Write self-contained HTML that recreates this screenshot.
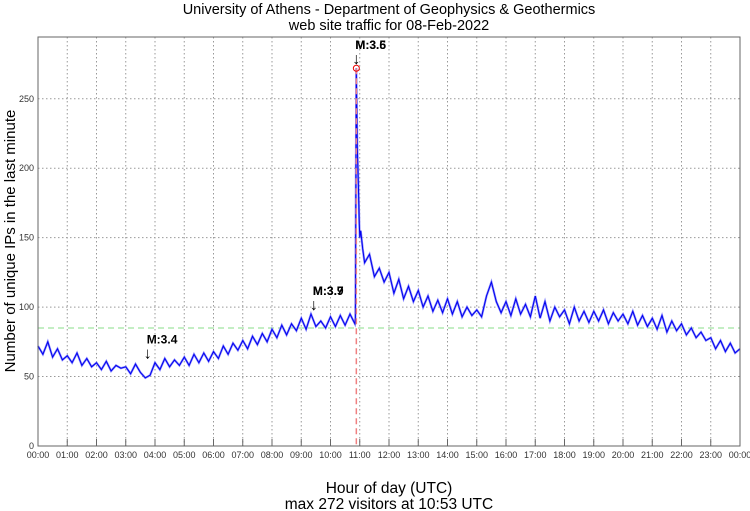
<!DOCTYPE html>
<html><head><meta charset="utf-8"><style>
html,body{margin:0;padding:0;background:#fff;}
svg{display:block;font-family:"Liberation Sans",sans-serif;}
</style></head><body>
<svg id="chart" width="750" height="511">
<text x="389" y="14" text-anchor="middle" font-size="14.5" fill="#000">University of Athens - Department of Geophysics &amp; Geothermics</text>
<text x="389" y="30" text-anchor="middle" font-size="14.5" fill="#000">web site traffic for 08-Feb-2022</text>
<text transform="translate(15,241) rotate(-90)" text-anchor="middle" font-size="15" fill="#000">Number of unique IPs in the last minute</text>
<text x="389" y="493" text-anchor="middle" font-size="15.5" fill="#000">Hour of day (UTC)</text>
<text x="389" y="509" text-anchor="middle" font-size="15.5" fill="#000">max 272 visitors at 10:53 UTC</text>
<g id="grid"></g>
<g id="series"></g>
<g id="axes"></g>
<g id="notes"></g>
</svg>
<script>
const hourLabels=["00:00","01:00","02:00","03:00","04:00","05:00","06:00","07:00","08:00","09:00","10:00","11:00","12:00","13:00","14:00","15:00","16:00","17:00","18:00","19:00","20:00","21:00","22:00","23:00","00:00"];
const yTicks=[0,50,100,150,200,250];
// visitors every 10 minutes from 00:00
const visitors=[72,66,75,64,70,62, 65,60,67,58,63,57, 60,55,61,54,58,56, 57,52,59,53,49,51,
60,55,63,57,62,58, 64,58,66,60,67,61, 68,63,72,66,74,69, 76,70,79,73,81,75,
84,78,87,80,88,83, 92,84,95,86,90,85, 93,86,94,87,95,88,
150,132,138,122,128,118, 125,110,120,106,115,104, 112,100,108,97,105,96,
106,95,104,93,100,94, 98,93,108,118,104,96, 104,94,106,95,102,93,
108,92,104,90,100,93, 98,88,100,90,97,89, 97,90,98,88,96,90,
95,88,97,87,94,86, 92,84,94,82,90,83, 88,80,85,78,82,76, 78,70,76,68,74,67, 70];
const spikeMinutes=[651,653,655,657,659,662,666];
const spikeValues=[92,272,215,190,160,155,142];
const meanLevel=85;
const peakMinute=653, peakValue=272;
const quakes=[{min:225,label:"M:3.4",labels2:""},{min:566,label:"M:3.9",labels2:"M:3.7"},{min:653,label:"M:3.6",labels2:"M:3.5"}];

const L=38,R=740,T=37,B=446,YMAX=294.5;
const xs=m=>L+(R-L)*m/1440;
const ys=v=>B-(B-T)*v/YMAX;
const NS="http://www.w3.org/2000/svg";
function mk(tag,attrs,parent){const e=document.createElementNS(NS,tag);for(const k in attrs)e.setAttribute(k,attrs[k]);parent.appendChild(e);return e;}
const grid=document.getElementById('grid'),axes=document.getElementById('axes'),series=document.getElementById('series'),notes=document.getElementById('notes');

hourLabels.forEach((lab,i)=>{
  const x=xs(i*60);
  if(i>0&&i<24){const g=mk('line',{x1:x,x2:x,y1:T,y2:B,stroke:'#999','stroke-dasharray':'1.5,2.5','stroke-width':1},grid);
  
  }
  const t=mk('line',{x1:x,x2:x,y1:B,y2:B-7,stroke:'#666','stroke-width':1},axes);
  
  
  const tx=mk('text',{x:x,y:B+12,'text-anchor':'middle','font-size':9,fill:'#333'},axes);
  tx.textContent=lab;
  
  
});
yTicks.forEach(v=>{
  const y=ys(v);
  if(v>0){const g=mk('line',{x1:L,x2:R,y1:y,y2:y,stroke:'#999','stroke-dasharray':'1.5,2.5','stroke-width':1},grid);
  
  }
  const tx=mk('text',{x:L-4,y:y+3,'text-anchor':'end','font-size':9,fill:'#333'},axes);
  tx.textContent=v;
  
  
});
const box=mk('rect',{x:L,y:T,width:R-L,height:B-T,fill:'none',stroke:'#666','stroke-width':1},axes);



const mean=mk('line',{x1:L,x2:R,y1:ys(meanLevel),y2:ys(meanLevel),stroke:'#88dd88','stroke-dasharray':'6,4','stroke-width':1},grid);



let pts=visitors.map((v,i)=>[i*10,v]).concat(spikeMinutes.map((m,i)=>[m,spikeValues[i]]));
pts.sort((a,b)=>a[0]-b[0]);
const d=pts.map((p,i)=>(i?'L':'M')+xs(p[0]).toFixed(1)+','+ys(p[1]).toFixed(1)).join('');
const back=mk('path',{d:d,fill:'none',stroke:'#8c8cff','stroke-width':2.2},series);


const line=mk('path',{d:d,fill:'none',stroke:'#0000ee','stroke-width':1},series);



const pv=mk('line',{x1:xs(peakMinute),x2:xs(peakMinute),y1:ys(peakValue),y2:B,stroke:'#f08080','stroke-dasharray':'6,4','stroke-width':1.5},series);


const pc=mk('circle',{cx:xs(peakMinute),cy:ys(peakValue),r:3,fill:'none',stroke:'#e00','stroke-width':1},series);



quakes.forEach(q=>{
  const x=xs(q.min);
  let v=0;pts.forEach(p=>{if(Math.abs(p[0]-q.min)<=15)v=Math.max(v,p[1]);});
  const y=ys(v)-4;
  const a=mk('text',{x:x,y:y,'text-anchor':'middle','font-size':16,fill:'#000'},notes);
  a.textContent='↓';
  
  
  [q.labels2,q.label].forEach(s=>{if(!s)return;
    const t=mk('text',{x:x-1,y:y-15,'font-size':12,'font-weight':'bold',fill:'#000'},notes);
    t.textContent=s;
    
    
  });
});
</script>
</body></html>
